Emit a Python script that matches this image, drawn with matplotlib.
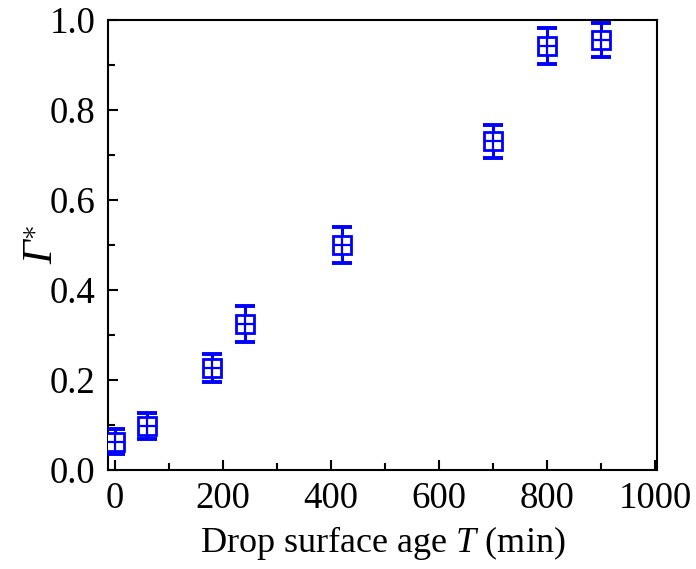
import numpy as np
import matplotlib.pyplot as plt
from matplotlib.ticker import MultipleLocator

# surface age (min) and normalised surface concentration
age = [0, 60, 180, 240, 420, 700, 800, 900]
gamma = [0.063, 0.098, 0.227, 0.325, 0.501, 0.730, 0.941, 0.955]
gamma_err = [0.027, 0.029, 0.031, 0.040, 0.040, 0.037, 0.040, 0.038]

plt.rcParams['font.family'] = ['Liberation Serif', 'DejaVu Serif']
plt.rcParams['mathtext.fontset'] = 'custom'
# greek capitals come from the rm slot, so make it italic to get an italic Gamma
plt.rcParams['mathtext.rm'] = 'Liberation Serif:italic'
plt.rcParams['mathtext.it'] = 'Liberation Serif:italic'

fig = plt.figure(figsize=(6.96, 5.69), dpi=100)
ax = fig.add_axes([0.155, 0.174, 0.789, 0.791])

ax.errorbar(age, gamma, yerr=gamma_err, fmt='none', ecolor='#0000ff',
            elinewidth=2.2, capsize=7, capthick=2.8, zorder=3)
ax.plot(age, gamma, linestyle='none', marker='s', markersize=12.5,
        markerfacecolor='white', markeredgecolor='#0000ff', markeredgewidth=2, zorder=4)
ax.plot(age, gamma, linestyle='none', marker='+', markersize=12.5,
        markeredgecolor='#0000ff', markeredgewidth=1.6, zorder=5)

ax.set_xlim(-13, 1003)
ax.set_ylim(0, 1.0)
ax.xaxis.set_major_locator(MultipleLocator(200))
ax.xaxis.set_minor_locator(MultipleLocator(100))
ax.yaxis.set_major_locator(MultipleLocator(0.2))
ax.yaxis.set_minor_locator(MultipleLocator(0.1))
ax.yaxis.set_major_formatter(plt.FuncFormatter(lambda v, p: f'{v:.1f}'))

ax.tick_params(which='both', direction='in', labelsize=26.5, width=1.5)
ax.tick_params(axis='y', pad=9)
ax.tick_params(axis='x', pad=8)
ax.tick_params(which='major', length=7)
ax.tick_params(which='minor', length=5)
for s in ax.spines.values():
    s.set_linewidth(1.5)

ax.set_xlabel('Drop surface age $T$ (min)', fontsize=26, labelpad=6)
ax.set_ylabel(r'$\Gamma^{\ast}$', fontsize=30)
ax.yaxis.set_label_coords(-0.085, 0.5)

fig.savefig('out.png', dpi=100)
